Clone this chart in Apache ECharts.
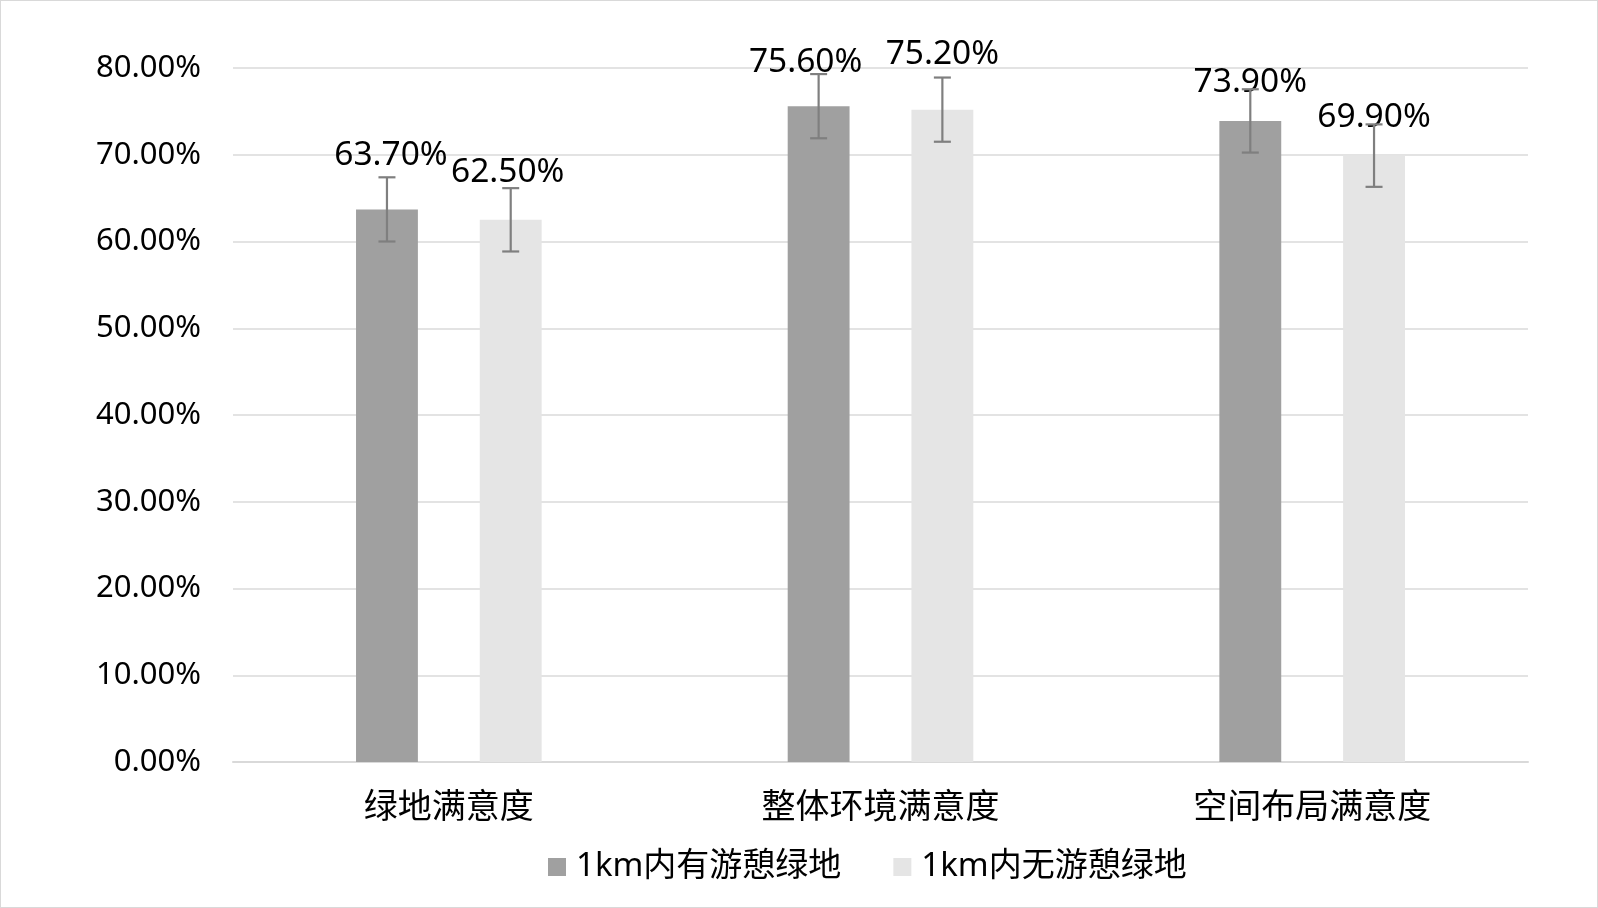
<!DOCTYPE html>
<html>
<head>
<meta charset="utf-8">
<script src="https://cdn.jsdelivr.net/npm/echarts@6/dist/echarts.min.js"></script>
<style>
  html, body { margin: 0; padding: 0; background: #fff; }
  #chart { width: 1598px; height: 908px; box-sizing: border-box; border: 1px solid #d9d9d9; }
</style>
</head>
<body>
<div id="chart"></div>
<script>
const categories = ['绿地满意度', '整体环境满意度', '空间布局满意度'];
const seriesNames = ['1km内有游憩绿地', '1km内无游憩绿地'];
const withGreen = [63.7, 75.6, 73.9];
const withoutGreen = [62.5, 75.2, 69.9];
const errWith = [3.7, 3.7, 3.65];
const errWithout = [3.65, 3.7, 3.6];
const yMin = 0, yMax = 80, yStep = 10;

// label nudges (style only)
const nudgeWith = [[4, -54], [-13, -44], [0, -38]];
const nudgeWithout = [[-3, -47], [0, -55], [0, -38]];

const FONT = '"Noto Sans", "Noto Sans CJK SC", sans-serif';
const CAT_GAP = 0.57;

function barSeries(name, values, color, nudges) {
  return {
    name: name,
    type: 'bar',
    barGap: '100%',
    barCategoryGap: (CAT_GAP * 100) + '%',
    itemStyle: { color: color },
    z: 2,
    label: {
      show: true,
      position: 'top',
      distance: 0,
      verticalAlign: 'middle',
      fontSize: 33.5,
      fontFamily: FONT,
      color: '#000',
      formatter: p => p.value.toFixed(2) + '%'
    },
    data: values.map((v, i) => ({ value: v, label: { offset: nudges[i] } }))
  };
}

function errorSeries(values, errs, sign) {
  return {
    type: 'custom',
    z: 3,
    silent: true,
    encode: { x: 0, y: 1 },
    data: values.map((v, i) => [i, v, errs[i]]),
    renderItem: function (params, api) {
      const idx = api.value(0), v = api.value(1), e = api.value(2);
      const band = api.size([1, 0])[0];
      const barW = band * (1 - CAT_GAP) / 3;
      const x = api.coord([idx, 0])[0] + sign * barW;
      const yT = api.coord([idx, v + e])[1];
      const yB = api.coord([idx, v - e])[1];
      const cap = 8.5;
      const st = { stroke: '#7f7f7f', lineWidth: 2.2 };
      return {
        type: 'group',
        children: [
          { type: 'line', shape: { x1: x, y1: yT, x2: x, y2: yB }, style: st },
          { type: 'line', shape: { x1: x - cap, y1: yT, x2: x + cap, y2: yT }, style: st },
          { type: 'line', shape: { x1: x - cap, y1: yB, x2: x + cap, y2: yB }, style: st }
        ]
      };
    }
  };
}

const chart = echarts.init(document.getElementById('chart'));
chart.setOption({
  animation: false,
  backgroundColor: '#fff',
  grid: { left: 232, right: 69, top: 67, bottom: 145, containLabel: false },
  legend: {
    data: seriesNames,
    left: 542,
    top: 841,
    icon: 'rect',
    itemWidth: 18,
    itemHeight: 18,
    itemGap: 52,
    textStyle: { fontSize: 33, fontFamily: FONT, color: '#000', padding: [0, 0, 0, 5], lineHeight: 40 }
  },
  xAxis: {
    type: 'category',
    data: categories,
    axisLine: { lineStyle: { color: '#d9d9d9', width: 2 } },
    axisTick: { show: false },
    axisLabel: { fontSize: 34, fontFamily: FONT, color: '#000', margin: 29 }
  },
  yAxis: {
    type: 'value',
    min: yMin, max: yMax, interval: yStep,
    axisLine: { show: false },
    axisTick: { show: false },
    splitLine: { lineStyle: { color: '#e3e3e3', width: 2 } },
    axisLabel: { fontSize: 31, fontFamily: FONT, color: '#000', margin: 32,
      formatter: v => v.toFixed(2) + '%' }
  },
  series: [
    barSeries(seriesNames[0], withGreen, '#a0a0a0', nudgeWith),
    barSeries(seriesNames[1], withoutGreen, '#e5e5e5', nudgeWithout),
    errorSeries(withGreen, errWith, -1),
    errorSeries(withoutGreen, errWithout, 1)
  ]
});
</script>
</body>
</html>
